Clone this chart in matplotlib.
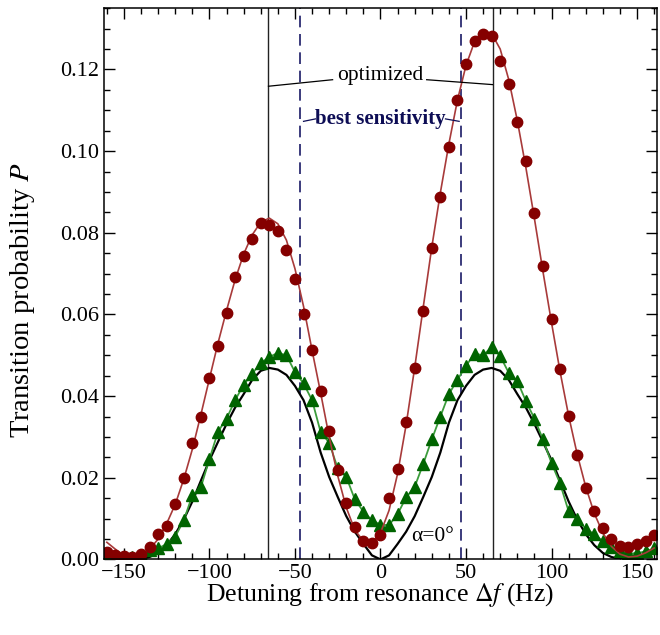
#!/usr/bin/env python3
# Transition probability vs detuning: measured points, fit and theory

import matplotlib
matplotlib.use("Agg")
import matplotlib.pyplot as plt
from matplotlib.ticker import MultipleLocator

plt.rcParams['font.family'] = ['Liberation Serif', 'DejaVu Serif']
plt.rcParams['mathtext.fontset'] = 'stix'

# detuning grid (Hz) shared by all series
freq = list(range(-160, 161, 5))

# measured points, red circles
red_pts = [0.0019, 0.0012, 0.0008, 0.0007, 0.0013, 0.0030, 0.0062, 0.0081, 0.0137,
           0.0200, 0.0284, 0.0348, 0.0444, 0.0522, 0.0604, 0.0692, 0.0743, 0.0785,
           0.0824, 0.0820, 0.0804, 0.0757, 0.0688, 0.0600, 0.0512, 0.0412, 0.0314,
           0.0220, 0.0139, 0.0080, 0.0045, 0.0041, 0.0059, 0.0150, 0.0221, 0.0337,
           0.0470, 0.0608, 0.0764, 0.0887, 0.1009, 0.1126, 0.1213, 0.1270, 0.1288,
           0.1282, 0.1221, 0.1164, 0.1071, 0.0977, 0.0849, 0.0719, 0.0588, 0.0467,
           0.0351, 0.0255, 0.0175, 0.0118, 0.0076, 0.0049, 0.0033, 0.0031, 0.0037,
           0.0046, 0.0059]

# fit through the red points
red_fit = [0.0042, 0.0025, 0.0010, 0.0004, 0.0008, 0.0025, 0.0050, 0.0088, 0.0135,
           0.0197, 0.0270, 0.0355, 0.0443, 0.0530, 0.0610, 0.0685, 0.0748, 0.0795,
           0.0826, 0.0836, 0.0822, 0.0782, 0.0712, 0.0620, 0.0512, 0.0408, 0.0300,
           0.0205, 0.0127, 0.0072, 0.0045, 0.0042, 0.0065, 0.0120, 0.0210, 0.0330,
           0.0470, 0.0618, 0.0765, 0.0898, 0.1018, 0.1125, 0.1210, 0.1268, 0.1295,
           0.1288, 0.1250, 0.1175, 0.1075, 0.0960, 0.0835, 0.0705, 0.0580, 0.0460,
           0.0352, 0.0258, 0.0178, 0.0113, 0.0065, 0.0032, 0.0013, 0.0006, 0.0008,
           0.0016, 0.0028]

# measured points, green triangles
green_pts = [0.0014, 0.0006, 0.0005, 0.0006, 0.0010, 0.0023, 0.0027, 0.0038, 0.0056,
             0.0096, 0.0157, 0.0177, 0.0246, 0.0313, 0.0345, 0.0390, 0.0428, 0.0455,
             0.0481, 0.0496, 0.0506, 0.0500, 0.0459, 0.0431, 0.0390, 0.0312, 0.0286,
             0.0223, 0.0202, 0.0147, 0.0117, 0.0096, 0.0085, 0.0084, 0.0111, 0.0152,
             0.0178, 0.0234, 0.0294, 0.0350, 0.0405, 0.0440, 0.0474, 0.0504, 0.0500,
             0.0520, 0.0498, 0.0457, 0.0437, 0.0388, 0.0345, 0.0294, 0.0236, 0.0186,
             0.0118, 0.0098, 0.0075, 0.0062, 0.0045, 0.0030, 0.0020, 0.0015, 0.0015,
             0.0020, 0.0027]

# theory curve for alpha = 0 deg
theory = [0.0018, 0.0009, 0.0003, 0.0000, 0.0001, 0.0006, 0.0016, 0.0035, 0.0062,
          0.0098, 0.0142, 0.0193, 0.0243, 0.0288, 0.0332, 0.0372, 0.0405, 0.0440,
          0.0462, 0.0469, 0.0465, 0.0452, 0.0425, 0.0390, 0.0335, 0.0262, 0.0202,
          0.0153, 0.0106, 0.0068, 0.0038, 0.0010, 0.0000, 0.0010, 0.0038, 0.0068,
          0.0106, 0.0153, 0.0202, 0.0262, 0.0335, 0.0390, 0.0425, 0.0452, 0.0465,
          0.0469, 0.0462, 0.0440, 0.0405, 0.0372, 0.0332, 0.0288, 0.0243, 0.0193,
          0.0142, 0.0098, 0.0062, 0.0035, 0.0016, 0.0006, 0.0001, 0.0000, 0.0003,
          0.0009, 0.0018]

optimized_f = [-65.5, 65.5]
best_f = [-47.0, 47.0]

fig = plt.figure(figsize=(6.6, 6.35), dpi=100)
ax = fig.add_axes([0.158, 0.119, 0.837, 0.868])

for f in optimized_f:
    ax.axvline(f, color='#222222', lw=1.0)
for f in best_f:
    ax.axvline(f, color='#1a1a66', lw=1.2, ls=(0, (7, 4)))

ax.plot(freq, theory, color='black', lw=1.6)
ax.plot(freq, green_pts, color='#3c9c3c', lw=1.3)
ax.plot(freq, green_pts, ls='none', marker='^', ms=8.5, color='#006400',
        markeredgecolor='#006400')
ax.plot(freq, red_fit, color='#a83a3a', lw=1.2)
ax.plot(freq, red_pts, ls='none', marker='o', ms=7.5, color='#850000',
        markeredgecolor='#850000')

# annotations
ax.text(0, 0.1186, 'optimized', ha='center', va='center', fontsize=15.5)
ax.plot([-65.5, -28], [0.1159, 0.1175], color='black', lw=0.9)
ax.plot([27, 65.5], [0.1175, 0.1163], color='black', lw=0.9)
ax.text(0, 0.1078, 'best sensitivity', ha='center', va='center', fontsize=15,
        fontweight='bold', color='#0d0d55')
ax.plot([-45, -38], [0.1073, 0.1079], color='#0d0d55', lw=0.9)
ax.plot([38, 46], [0.1079, 0.1073], color='#0d0d55', lw=0.9)
ax.text(30.5, 0.0055, 'α=0°', ha='center', va='center', fontsize=15.5)

ax.set_xlim(-161.5, 161.5)
ax.set_ylim(0, 0.135)
ax.xaxis.set_major_locator(MultipleLocator(50))
ax.xaxis.set_minor_locator(MultipleLocator(10))
ax.yaxis.set_major_locator(MultipleLocator(0.02))
ax.yaxis.set_minor_locator(MultipleLocator(0.005))
ax.yaxis.set_major_formatter(plt.FuncFormatter(lambda v, p: f'{v:.2f}'))
ax.tick_params(which='both', direction='in', top=True, right=True, labelsize=16)
ax.tick_params(which='major', length=8, width=1)
ax.tick_params(which='minor', length=4, width=1)
for s in ax.spines.values():
    s.set_linewidth(1.1)

ax.set_xlabel(r'Detuning from resonance $\Delta f$ (Hz)', fontsize=18.5)
ax.set_ylabel(r'Transition probability $P$', fontsize=20.5)
ax.xaxis.set_label_coords(0.5, -0.04)
ax.yaxis.set_label_coords(-0.121, 0.47)

fig.savefig('out.png', dpi=100)
